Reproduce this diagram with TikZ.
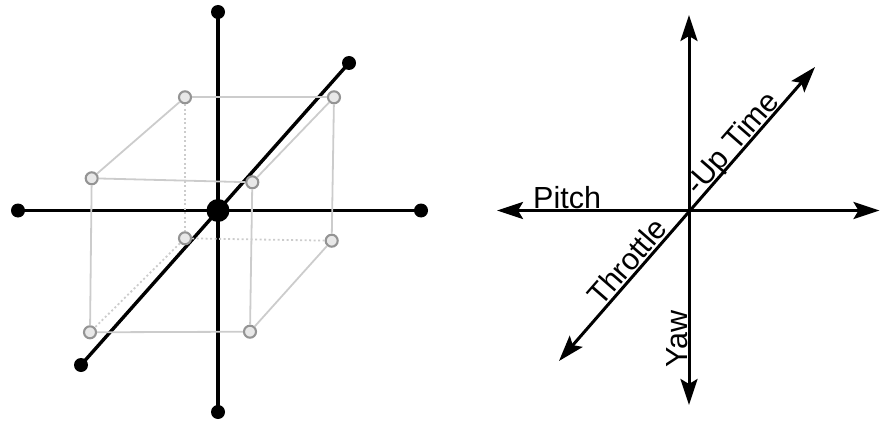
\documentclass[tikz,border=0pt]{standalone}
\usepackage{fontspec}
\setmainfont{Liberation Sans}
\usetikzlibrary{arrows.meta}
\begin{document}
\begin{tikzpicture}[x=1pt,y=1pt,
  axisline/.style={line width=3.4pt, black},
  enddot/.style={circle, fill=black, inner sep=0pt, minimum size=14pt},
  centerdot/.style={circle, fill=black, inner sep=0pt, minimum size=23pt},
  vert/.style={circle, draw=black!42, fill=black!9, line width=2.1pt, inner sep=0pt, minimum size=12pt},
  edge/.style={draw=black!20, line width=1.8pt},
  hidden/.style={draw=black!20, line width=1.8pt, dash pattern=on 2pt off 2.5pt},
  arrowaxis/.style={line width=3pt, black, {Stealth[length=26pt,width=17pt,inset=5pt]}-{Stealth[length=26pt,width=17pt,inset=5pt]}},
  lbl/.style={inner sep=0pt, font=\fontsize{30.5}{30.5}\selectfont}
]
\useasboundingbox (0,0) rectangle (880,421);

% ---------- left figure: axes ----------
\coordinate (C) at (218,210.5);
\node[enddot] (vt) at (218,409) {};
\node[enddot] (vb) at (218,9) {};
\node[enddot] (hl) at (18,210.5) {};
\node[enddot] (hr) at (421,210.5) {};
\node[enddot] (dur) at (349,358) {};
\node[enddot] (dll) at (81,56) {};
\draw[axisline] (vt.center) -- (vb.center);
\draw[axisline] (hl.center) -- (hr.center);
\draw[axisline] (dll.center) -- (dur.center);
\node[centerdot] (cdot) at (C) {};

% ---------- left figure: cube ----------
\node[vert] (btl) at (185,323.7) {};
\node[vert] (btr) at (334,323.7) {};
\node[vert] (ftl) at (91.7,242.7) {};
\node[vert] (ftr) at (252.3,238.7) {};
\node[vert] (bbl) at (185,182.7) {};
\node[vert] (bbr) at (331.7,180.3) {};
\node[vert] (fbl) at (90,88.7) {};
\node[vert] (fbr) at (250,89.3) {};

\draw[edge] (btl) -- (btr);
\draw[edge] (btl) -- (ftl);
\draw[edge] (btr) -- (ftr);
\draw[edge] (btr) -- (bbr);
\draw[edge] (ftl) -- (ftr);
\draw[edge] (ftl) -- (fbl);
\draw[edge] (ftr) -- (fbr);
\draw[edge] (fbl) -- (fbr);
\draw[edge] (bbr) -- (fbr);
\draw[hidden] (btl) -- (bbl);
\draw[hidden] (bbl) -- (bbr);
\draw[hidden] (bbl) -- (fbl);

% ---------- right figure ----------
\coordinate (C2) at (689,210.5);
\coordinate (up) at (689,406);
\coordinate (down) at (689,16);
\coordinate (left) at (497,210.5);
\coordinate (right) at (879.5,210.5);
\coordinate (ur) at (815,354);
\coordinate (ll) at (559,60);
\draw[arrowaxis] (down) -- (up);
\draw[arrowaxis] (left) -- (right);
\draw[arrowaxis] (ll) -- (ur);

\node[lbl, anchor=base west] (pitch) at (533,213) {Pitch};
\node[lbl, anchor=base west, rotate=90] (yaw) at (687,53) {Yaw};
\node[lbl, anchor=base west, rotate=48.9] (throttle) at (601,113) {Throttle};
\node[lbl, anchor=base west, rotate=48.9] (uptime) at (698.5,224.5) {-Up Time};
\end{tikzpicture}
\end{document}
